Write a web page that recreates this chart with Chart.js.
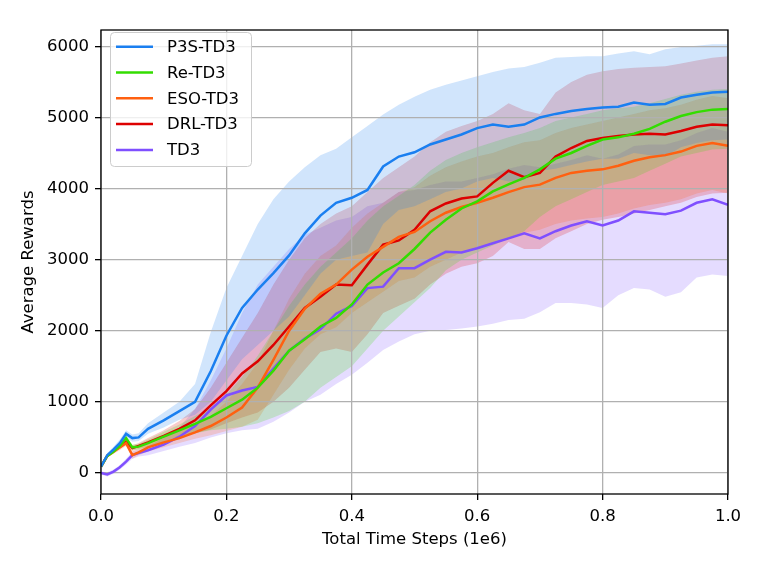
<!DOCTYPE html>
<html>
<head>
<meta charset="utf-8">
<script src="https://cdn.jsdelivr.net/npm/chart.js@4.4.0/dist/chart.umd.min.js"></script>
<style>
  html, body { margin: 0; padding: 0; background: #ffffff; }
  #chart { display: block; }
</style>
</head>
<body>
<canvas id="chart" width="761" height="571"></canvas>
<script>
// Time steps (1e6)
const xSteps = [0, 0.01, 0.02, 0.03, 0.04, 0.05, 0.06, 0.075,
  0.1, 0.125, 0.15, 0.175, 0.2, 0.225, 0.25, 0.275, 0.3, 0.325, 0.35, 0.375,
  0.4, 0.425, 0.45, 0.475, 0.5, 0.525, 0.55, 0.575, 0.6, 0.625, 0.65, 0.675,
  0.7, 0.725, 0.75, 0.775, 0.8, 0.825, 0.85, 0.875, 0.9, 0.925, 0.95, 0.975, 1.0];

const seriesNames = ['P3S-TD3', 'Re-TD3', 'ESO-TD3', 'DRL-TD3', 'TD3'];
const seriesColors = ['#1a7ff0', '#33dd00', '#ff6010', '#dd0000', '#7f4fff'];

const yTicks = [0, 1000, 2000, 3000, 4000, 5000, 6000];
const xTicks = [0.0, 0.2, 0.4, 0.6, 0.8, 1.0];

// P3S-TD3
const p3sMean = [90, 250, 330, 420, 550, 490, 500, 620,
  740, 870, 1000, 1430, 1930, 2320, 2580, 2810, 3060, 3370, 3620, 3800,
  3870, 3980, 4310, 4450, 4510, 4620, 4690, 4760, 4850, 4900, 4870, 4900,
  5000, 5050, 5090, 5120, 5140, 5150, 5210, 5180, 5190, 5280, 5320, 5350, 5360];
const p3sUpper = [110, 280, 370, 470, 600, 540, 560, 700,
  850, 1000, 1250, 1980, 2600, 3050, 3500, 3850, 4100, 4300, 4470, 4560,
  4720, 4880, 5040, 5180, 5290, 5390, 5460, 5520, 5580, 5640, 5690, 5710,
  5770, 5840, 5850, 5860, 5860, 5900, 5930, 5890, 5960, 5990, 6010, 6030, 6030];
const p3sLower = [70, 220, 290, 370, 500, 440, 450, 550,
  640, 750, 820, 1000, 1300, 1600, 1800, 2000, 2200, 2500, 2800, 3000,
  3050, 3100, 3500, 3700, 3750, 3850, 3950, 4000, 4100, 4150, 4100, 4120,
  4250, 4280, 4330, 4380, 4420, 4420, 4500, 4470, 4450, 4580, 4640, 4680, 4690];

// Re-TD3
const reMean = [90, 240, 300, 380, 490, 360, 370, 420,
  510, 600, 690, 790, 910, 1030, 1200, 1440, 1720, 1880, 2060, 2180,
  2370, 2650, 2820, 2950, 3150, 3380, 3560, 3720, 3820, 3960, 4060, 4150,
  4270, 4420, 4500, 4600, 4690, 4720, 4770, 4840, 4940, 5020, 5075, 5110, 5120];
const reUpper = [100, 260, 330, 410, 520, 400, 410, 470,
  580, 680, 800, 920, 1100, 1350, 1650, 2000, 2350, 2650, 2900, 3100,
  3300, 3550, 3750, 3900, 4050, 4250, 4400, 4500, 4580, 4650, 4720, 4780,
  4850, 4950, 5000, 5050, 5100, 5130, 5150, 5200, 5260, 5320, 5360, 5390, 5400];
const reLower = [80, 220, 270, 350, 460, 320, 330, 370,
  440, 520, 560, 600, 620, 650, 700, 780, 870, 1000, 1200, 1350,
  1500, 1750, 2000, 2200, 2400, 2600, 2850, 3000, 3100, 3200, 3300, 3400,
  3600, 3750, 3850, 3950, 4050, 4100, 4150, 4250, 4350, 4450, 4500, 4550, 4560];

// ESO-TD3
const esoMean = [90, 240, 300, 360, 420, 250, 290, 360,
  430, 490, 570, 660, 780, 920, 1200, 1590, 2000, 2310, 2520, 2650,
  2860, 3040, 3180, 3320, 3390, 3540, 3660, 3740, 3800, 3870, 3950, 4020,
  4055, 4150, 4220, 4250, 4270, 4320, 4390, 4440, 4470, 4520, 4600, 4640, 4600];
const esoUpper = [100, 260, 330, 400, 460, 300, 350, 420,
  500, 590, 690, 800, 1000, 1250, 1550, 2000, 2450, 2800, 3050, 3200,
  3450, 3650, 3800, 3950, 4020, 4180, 4300, 4380, 4450, 4500, 4580, 4650,
  4680, 4780, 4850, 4900, 4950, 5000, 5050, 5100, 5130, 5180, 5250, 5300, 5270];
const esoLower = [80, 220, 270, 320, 380, 200, 250, 300,
  360, 420, 480, 530, 590, 650, 750, 1100, 1450, 1750, 1950, 2050,
  2250, 2400, 2550, 2700, 2750, 2900, 3000, 3100, 3150, 3220, 3300, 3380,
  3420, 3500, 3550, 3580, 3600, 3650, 3720, 3770, 3800, 3850, 3930, 3980, 3930];

// DRL-TD3
const drlMean = [90, 240, 310, 370, 440, 350, 380, 430,
  520, 620, 740, 950, 1150, 1400, 1570, 1800, 2060, 2320, 2480, 2650,
  2640, 2930, 3210, 3270, 3420, 3680, 3790, 3860, 3890, 4080, 4250, 4160,
  4220, 4450, 4570, 4670, 4710, 4740, 4760, 4770, 4760, 4810, 4870, 4900, 4890];
const drlUpper = [100, 260, 340, 400, 480, 390, 420, 490,
  600, 730, 900, 1200, 1550, 1900, 2250, 2650, 3000, 3300, 3500, 3650,
  3750, 3950, 4150, 4300, 4450, 4650, 4800, 4880, 4950, 5050, 5200, 5100,
  5050, 5350, 5500, 5600, 5650, 5680, 5700, 5710, 5720, 5760, 5800, 5840, 5860];
const drlLower = [80, 220, 280, 340, 400, 310, 340, 370,
  440, 510, 560, 610, 700, 780, 850, 1000, 1200, 1450, 1700, 1750,
  1700, 1950, 2250, 2350, 2450, 2650, 2800, 2900, 2950, 3050, 3250, 3150,
  3150, 3300, 3400, 3500, 3560, 3600, 3650, 3700, 3750, 3800, 3880, 3930, 3940];

// TD3
const td3Mean = [0, -20, 20, 80, 160, 250, 280, 320,
  400, 510, 660, 890, 1090, 1160, 1210, 1470, 1720, 1890, 2020, 2240,
  2350, 2600, 2620, 2880, 2880, 3000, 3110, 3100, 3160, 3230, 3300, 3370,
  3300, 3400, 3480, 3540, 3480, 3550, 3680, 3660, 3640, 3690, 3800, 3850, 3770];
const td3Upper = [20, 10, 50, 110, 200, 300, 330, 380,
  490, 640, 900, 1300, 1750, 2250, 2650, 2900, 3150, 3350, 3450, 3550,
  3600, 3750, 3800, 3950, 3980, 4050, 4100, 4100, 4150, 4200, 4280, 4330,
  4300, 4350, 4400, 4470, 4420, 4480, 4600, 4620, 4620, 4680, 4780, 4850, 4800];
const td3Lower = [-20, -50, -10, 50, 120, 200, 230, 250,
  310, 370, 420, 500, 560, 600, 620, 720, 850, 1000, 1100, 1250,
  1380, 1550, 1730, 1850, 1950, 2000, 2010, 2030, 2060, 2100, 2150, 2170,
  2260, 2390, 2390, 2370, 2320, 2500, 2600, 2580, 2480, 2540, 2750, 2790, 2770];

const seriesMeans = [p3sMean, reMean, esoMean, drlMean, td3Mean];
const seriesUppers = [p3sUpper, reUpper, esoUpper, drlUpper, td3Upper];
const seriesLowers = [p3sLower, reLower, esoLower, drlLower, td3Lower];

const FONT = "'DejaVu Sans', 'Liberation Sans', sans-serif";

function toPoints(values) {
    return xSteps.map((x, i) => ({ x: x, y: values[i] }));
}

function withAlpha(hex, a) {
    const r = parseInt(hex.slice(1, 3), 16);
    const g = parseInt(hex.slice(3, 5), 16);
    const b = parseInt(hex.slice(5, 7), 16);
    return `rgba(${r}, ${g}, ${b}, ${a})`;
}

function buildDatasets() {
    const bands = [];
    const lines = [];
    seriesNames.forEach((name, i) => {
        bands.push({
            label: name + ' upper',
            data: toPoints(seriesUppers[i]),
            borderWidth: 0,
            pointRadius: 0,
            backgroundColor: withAlpha(seriesColors[i], 0.2),
            fill: '+1',
            order: 2
        });
        bands.push({
            label: name + ' lower',
            data: toPoints(seriesLowers[i]),
            borderWidth: 0,
            pointRadius: 0,
            fill: false,
            order: 2
        });
        lines.push({
            label: name,
            data: toPoints(seriesMeans[i]),
            borderColor: seriesColors[i],
            borderWidth: 2.5,
            pointRadius: 0,
            tension: 0,
            fill: false,
            order: 1
        });
    });
    return bands.concat(lines);
}

// Frame round the plot area and the legend box
const frameAndLegend = {
    id: 'frameAndLegend',
    afterDraw(chart) {
        const ctx = chart.ctx;
        const area = chart.chartArea;
        ctx.save();
        ctx.strokeStyle = '#000000';
        ctx.lineWidth = 1.3;
        ctx.strokeRect(area.left, area.top, area.right - area.left, area.bottom - area.top);

        const boxX = 110.5, boxY = 32.5, boxW = 141, boxH = 134;
        ctx.beginPath();
        ctx.roundRect(boxX, boxY, boxW, boxH, 4);
        ctx.fillStyle = 'rgba(255, 255, 255, 0.8)';
        ctx.fill();
        ctx.strokeStyle = '#cccccc';
        ctx.lineWidth = 1;
        ctx.stroke();

        ctx.font = `16.5px ${FONT}`;
        ctx.textBaseline = 'middle';
        ctx.textAlign = 'left';
        seriesNames.forEach((name, i) => {
            const y = 46.7 + i * 25.8;
            ctx.beginPath();
            ctx.moveTo(116, y);
            ctx.lineTo(153, y);
            ctx.strokeStyle = seriesColors[i];
            ctx.lineWidth = 2.5;
            ctx.stroke();
            ctx.fillStyle = '#000000';
            ctx.fillText(name, 167, y + 1);
        });
        ctx.restore();
    }
};

const ctx = document.getElementById('chart').getContext('2d');
new Chart(ctx, {
    type: 'line',
    data: { datasets: buildDatasets() },
    options: {
        responsive: false,
        animation: false,
        devicePixelRatio: 1,
        layout: { padding: { top: 30, right: 33, left: 0, bottom: 0 } },
        font: { family: FONT, size: 16.5 },
        plugins: {
            legend: { display: false },
            tooltip: { enabled: false },
            filler: { drawTime: 'beforeDraw' }
        },
        scales: {
            x: {
                type: 'linear',
                min: 0,
                max: 1,
                afterBuildTicks: scale => { scale.ticks = xTicks.map(v => ({ value: v })); },
                afterFit: scale => { scale.height = 77; },
                ticks: {
                    color: '#000000',
                    padding: 7,
                    maxRotation: 0,
                    font: { family: FONT, size: 16.5 },
                    callback: value => value.toFixed(1)
                },
                grid: { color: '#b0b0b0', lineWidth: 1.3, tickColor: '#000000', tickLength: 6 },
                border: { display: false },
                title: {
                    display: true,
                    text: 'Total Time Steps (1e6)',
                    color: '#000000',
                    font: { family: FONT, size: 16.5 },
                    padding: { top: 0, bottom: 21 }
                }
            },
            y: {
                type: 'linear',
                min: -296,
                max: 6230,
                afterBuildTicks: scale => { scale.ticks = yTicks.map(v => ({ value: v })); },
                afterFit: scale => { scale.width = 101; },
                ticks: {
                    color: '#000000',
                    padding: 6,
                    font: { family: FONT, size: 16.5 },
                    callback: value => String(value)
                },
                grid: { color: '#b0b0b0', lineWidth: 1.3, tickColor: '#000000', tickLength: 6 },
                border: { display: false },
                title: {
                    display: true,
                    text: 'Average Rewards',
                    color: '#000000',
                    font: { family: FONT, size: 16.5 },
                    padding: { top: 19, bottom: 0 }
                }
            }
        }
    },
    plugins: [frameAndLegend]
});
</script>
</body>
</html>
